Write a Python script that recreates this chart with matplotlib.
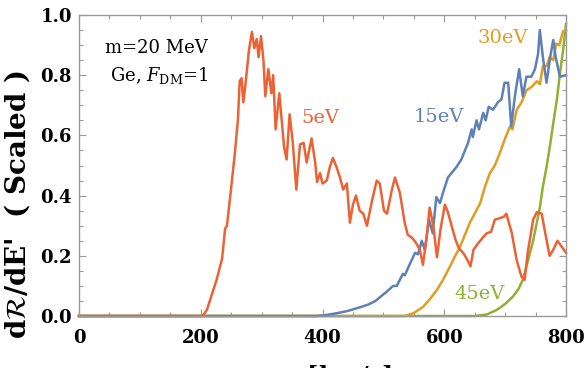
import matplotlib
matplotlib.use('Agg')
import matplotlib.pyplot as plt
from matplotlib.ticker import MultipleLocator

plt.rcParams['font.family'] = ['DejaVu Serif']
plt.rcParams['mathtext.fontset'] = 'dejavuserif'

# ---- data ----
ev5_x = [0, 203, 210, 218, 226, 235, 240, 243, 248, 256, 261, 264, 267, 270, 275, 279, 284, 288,
         292, 295, 299, 303, 306, 311, 316, 319, 323, 329, 333, 337, 341, 346, 351, 357, 363, 369,
         374, 382, 388, 391, 396, 400, 407, 412, 417, 423, 428, 434, 440, 445, 450, 455, 461, 467,
         473, 481, 489, 494, 501, 506, 514, 519, 527, 535, 540, 547, 553, 560, 565, 571, 576, 582,
         588, 594, 601, 606, 612, 619, 624, 631, 637, 643, 648, 655, 663, 670, 677, 683, 691, 698,
         702, 711, 719, 727, 732, 737, 746, 752, 760, 765, 773, 779, 786, 793, 800]
ev5_y = [0, 0, 0.02, 0.07, 0.12, 0.19, 0.29, 0.30, 0.39, 0.54, 0.65, 0.78, 0.79, 0.71, 0.80, 0.88,
         0.944, 0.89, 0.92, 0.86, 0.93, 0.85, 0.73, 0.82, 0.74, 0.80, 0.62, 0.74, 0.65, 0.56, 0.52,
         0.67, 0.58, 0.42, 0.57, 0.575, 0.51, 0.59, 0.51, 0.445, 0.475, 0.44, 0.45, 0.495, 0.525,
         0.495, 0.465, 0.42, 0.44, 0.31, 0.37, 0.40, 0.35, 0.34, 0.30, 0.38, 0.45, 0.44, 0.35, 0.34,
         0.42, 0.46, 0.41, 0.31, 0.27, 0.26, 0.245, 0.22, 0.17, 0.26, 0.36, 0.30, 0.195, 0.29, 0.37,
         0.345, 0.30, 0.25, 0.225, 0.21, 0.19, 0.165, 0.22, 0.24, 0.26, 0.275, 0.28, 0.32, 0.325,
         0.33, 0.34, 0.275, 0.185, 0.13, 0.12, 0.21, 0.32, 0.345, 0.34, 0.285, 0.20, 0.22, 0.25,
         0.23, 0.21]

ev15_x = [0, 390, 405, 420, 440, 460, 475, 487, 494, 505, 516, 522, 532, 535, 544, 552, 557, 563,
          568, 575, 581, 587, 593, 598, 606, 612, 620, 628, 634, 639, 645, 647, 653, 657, 664, 668,
          673, 680, 688, 694, 699, 705, 710, 716, 723, 729, 735, 743, 749, 754, 757, 762, 768, 774,
          779, 783, 790, 800]
ev15_y = [0, 0, 0.003, 0.008, 0.016, 0.028, 0.038, 0.05, 0.062, 0.08, 0.10, 0.10, 0.14, 0.135,
          0.175, 0.21, 0.205, 0.25, 0.22, 0.32, 0.275, 0.395, 0.375, 0.41, 0.46, 0.475, 0.495, 0.52,
          0.55, 0.575, 0.62, 0.595, 0.65, 0.62, 0.675, 0.65, 0.695, 0.685, 0.71, 0.72, 0.775, 0.775,
          0.63, 0.73, 0.82, 0.73, 0.795, 0.795, 0.82, 0.87, 0.95, 0.86, 0.775, 0.86, 0.917, 0.86,
          0.795, 0.80]

ev30_x = [0, 535, 550, 565, 576, 588, 598, 609, 618, 626, 634, 642, 650, 659, 667, 675, 683, 691,
          700, 708, 712, 719, 727, 735, 743, 752, 757, 762, 768, 773, 779, 784, 789, 795, 800]
ev30_y = [0, 0, 0.01, 0.03, 0.055, 0.087, 0.12, 0.163, 0.20, 0.23, 0.27, 0.31, 0.34, 0.375, 0.43,
          0.475, 0.50, 0.54, 0.59, 0.63, 0.62, 0.685, 0.71, 0.75, 0.76, 0.78, 0.77, 0.83, 0.83,
          0.86, 0.85, 0.905, 0.90, 0.945, 0.95]

ev45_x = [0, 650, 670, 686, 700, 713, 722, 729, 737, 746, 752, 757, 762, 768, 774, 779, 785, 790, 795, 800]
ev45_y = [0, 0, 0.005, 0.02, 0.04, 0.065, 0.09, 0.12, 0.18, 0.25, 0.31, 0.36, 0.43, 0.495, 0.57,
          0.64, 0.72, 0.805, 0.88, 0.97]

series = [
    (ev5_x, ev5_y, '#EB6235', '5eV', (397, 0.658)),
    (ev15_x, ev15_y, '#5E81B5', '15eV', (591, 0.66)),
    (ev30_x, ev30_y, '#E19C24', '30eV', (696, 0.925)),
    (ev45_x, ev45_y, '#8FB032', '45eV', (658, 0.073)),
]

fig = plt.figure(figsize=(5.86, 3.68), dpi=100)
ax = fig.add_axes([0.1348, 0.1413, 0.8311, 0.8179])

# draw order: green, orange, blue, red on top
for xs, ys, c, lab, pos in [series[3], series[2], series[1], series[0]]:
    ax.plot(xs, ys, color=c, lw=1.8, clip_on=False, solid_joinstyle='round')
for xs, ys, c, lab, pos in series:
    ax.text(pos[0], pos[1], lab, color=c, fontsize=14, ha='center', va='center')

ax.set_xlim(0, 800)
ax.set_ylim(0, 1.0)
ax.xaxis.set_major_locator(MultipleLocator(200))
ax.xaxis.set_minor_locator(MultipleLocator(50))
ax.yaxis.set_major_locator(MultipleLocator(0.2))
ax.yaxis.set_minor_locator(MultipleLocator(0.05))
ax.yaxis.set_major_formatter(plt.FuncFormatter(lambda v, p: f'{v:.1f}'))

for s in ax.spines.values():
    s.set_color('#999999'); s.set_linewidth(1.0)
ax.tick_params(which='both', direction='in', top=True, right=True, color='#999999')
ax.tick_params(which='major', length=5, width=0.8)
ax.tick_params(which='minor', length=3, width=0.8)
ax.tick_params(axis='x', which='major', pad=9, labelsize=13)
ax.tick_params(axis='y', which='major', pad=5, labelsize=13)
for t in ax.get_xticklabels() + ax.get_yticklabels():
    t.set_fontweight('bold')

ax.set_ylabel(r"d$\mathcal{R}$/dE'  ( Scaled )", fontsize=20, fontweight='bold')
ax.yaxis.set_label_coords(-0.096, 0.37)
# the x label sits mostly below the bottom edge of the picture, as in the reference
ax.set_xlabel(r"$v_{\rm min}$ [km/s]", fontsize=17, fontweight='bold')
ax.xaxis.set_label_coords(0.5, -0.155)
ax.xaxis.label.set_va('top')

ax.text(0.158, 0.89, 'm=20 MeV', transform=ax.transAxes, fontsize=13, ha='center', va='center')
ax.text(0.164, 0.80, r'Ge, $F_{\rm DM}$=1', transform=ax.transAxes, fontsize=13, ha='center', va='center')

plt.savefig('out.png', dpi=100)
